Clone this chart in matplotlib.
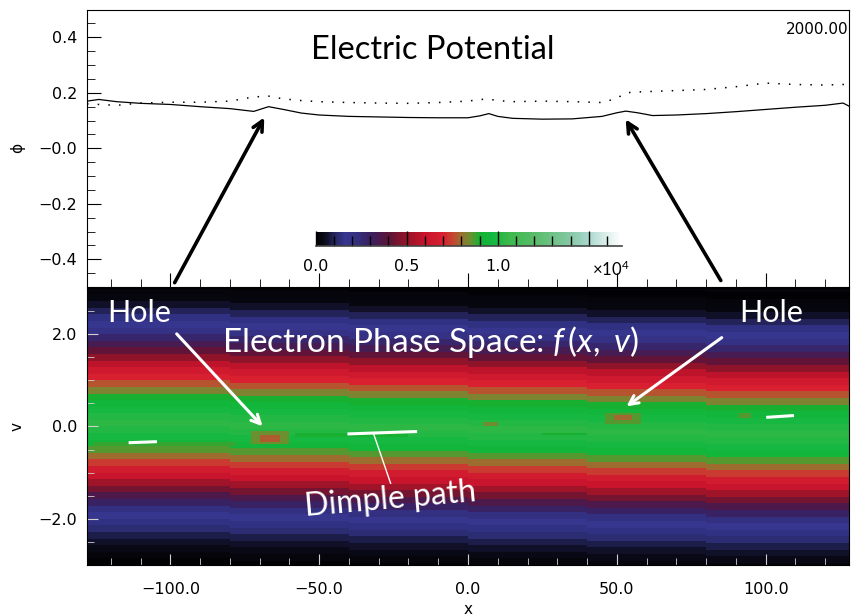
import numpy as np
import matplotlib
matplotlib.use("Agg")
import matplotlib.pyplot as plt
from matplotlib.colors import LinearSegmentedColormap
from matplotlib.ticker import MultipleLocator, FixedLocator, FixedFormatter
from matplotlib.lines import Line2D

# --- potential traces (top panel) ---
x_phi = [-128, -124, -118, -110, -100, -90, -80, -72, -67, -62, -56, -50, -40, -30,
         -20, -10, 0, 4, 7, 10, 15, 25, 35, 45, 50, 53, 57, 62, 70, 80, 90, 100,
         110, 120, 126, 128]
phi_now = [0.170, 0.176, 0.168, 0.162, 0.158, 0.150, 0.143, 0.133, 0.150, 0.140,
           0.127, 0.120, 0.115, 0.113, 0.111, 0.110, 0.110, 0.117, 0.125, 0.115,
           0.108, 0.105, 0.106, 0.115, 0.128, 0.134, 0.128, 0.118, 0.120, 0.125,
           0.132, 0.140, 0.148, 0.155, 0.163, 0.152]
phi_ref = [0.160, 0.158, 0.155, 0.163, 0.166, 0.166, 0.170, 0.185, 0.188, 0.178,
           0.172, 0.168, 0.165, 0.163, 0.162, 0.165, 0.170, 0.176, 0.177, 0.172,
           0.168, 0.170, 0.168, 0.165, 0.180, 0.200, 0.203, 0.205, 0.208, 0.212,
           0.222, 0.235, 0.230, 0.228, 0.230, 0.228]

# --- f(x, v) velocity profile, rows from v=+3 down to v=-3, in units of 1e4 ---
f_profile = [0.02, 0.03, 0.06, 0.10, 0.15, 0.17, 0.20, 0.27, 0.34, 0.41, 0.49,
             0.58, 0.64, 0.70, 0.77, 0.83, 0.90, 0.95, 0.98, 1.01, 1.03, 1.01,
             0.98, 0.95, 0.86, 0.80, 0.74, 0.66, 0.60, 0.52, 0.44, 0.36, 0.29,
             0.22, 0.17, 0.15, 0.13, 0.09, 0.06, 0.04, 0.02, 0.01]
SUB = 3  # each profile row drawn as 3 sub-rows so the band drift is gentle
# bands drift slightly downward toward +x (in sub-rows)
shift_edges = [-128, -80, -40, 0, 40, 80, 128]
shift_rows = [0, 1, 2, 3, 4, 5]
# holes / dimple trail: x0, x1, v0, v1, value
holes = [(-73, -60, -0.40, -0.10, 0.85),
         (-70, -63, -0.33, -0.17, 0.78),
         (46, 58, 0.07, 0.30, 0.86),
         (49, 55, 0.12, 0.24, 0.79),
         (5, 10, -0.02, 0.10, 0.84),
         (91, 95, 0.20, 0.30, 0.86),
         (-126, -78, -0.42, -0.32, 0.88),
         (-58, -20, -0.22, -0.14, 0.90),
         (25, 40, -0.20, -0.12, 0.90)]

# colormap nodes (value in 1e4, colour)
cmap_vals = [0.00, 0.05, 0.10, 0.16, 0.22, 0.30, 0.40, 0.50, 0.60, 0.70, 0.76,
             0.80, 0.85, 0.90, 0.97, 1.05, 1.20, 1.40, 1.50, 1.60, 1.68]
cmap_cols = ["#000000", "#0c0c1c", "#24245c", "#363690", "#343080", "#3a2060",
             "#5c1438", "#961428", "#c8142c", "#d82030", "#c04a30", "#9a7030",
             "#6a9030", "#18b030", "#10b840", "#38b848", "#58bc68", "#84c8a4",
             "#a8d8cc", "#dcefeb", "#ffffff"]
VMAX = 1.68

plt.rcParams["font.family"] = "DejaVu Sans"
plt.rcParams["mathtext.fontset"] = "custom"
plt.rcParams["mathtext.rm"] = "Lato"
plt.rcParams["mathtext.it"] = "Lato:italic"

cmap = LinearSegmentedColormap.from_list(
    "fv", list(zip([v / VMAX for v in cmap_vals], cmap_cols)))

# build the phase-space image
x_edges = np.arange(-128, 129, 1.0)
xc = x_edges[:-1] + 0.5
prof = np.repeat(np.array(f_profile), SUB)
v_edges = np.linspace(3, -3, len(prof) + 1)
vc = 0.5 * (v_edges[:-1] + v_edges[1:])
img = np.tile(prof[:, None], (1, len(xc)))
for i, s in enumerate(shift_rows):
    cols = (xc >= shift_edges[i]) & (xc < shift_edges[i + 1])
    img[:, cols] = np.roll(img[:, cols], s, axis=0)
for x0, x1, v0, v1, val in holes:
    rr = (vc >= v0) & (vc <= v1)
    cc = (xc >= x0) & (xc <= x1)
    img[np.ix_(rr, cc)] = np.minimum(img[np.ix_(rr, cc)], val)

fig = plt.figure(figsize=(8.52, 6.16), dpi=100)
ax1 = fig.add_axes([0.1021, 0.534, 0.8944, 0.4505])
ax2 = fig.add_axes([0.1021, 0.0828, 0.8944, 0.4497])

# --- top panel ---
ax1.plot(x_phi, phi_now, color="black", lw=0.9)
ax1.plot(x_phi, phi_ref, color="black", lw=1.1, linestyle=(0, (1, 6)))
ax1.set_xlim(-128, 128)
ax1.set_ylim(-0.5, 0.5)
ax1.yaxis.set_major_locator(FixedLocator([-0.4, -0.2, 0.0, 0.2, 0.4]))
ax1.yaxis.set_major_formatter(FixedFormatter(["\u22120.4", "\u22120.2", "\u22120.0", "0.2", "0.4"]))
ax1.yaxis.set_minor_locator(MultipleLocator(0.05))
ax1.xaxis.set_major_locator(MultipleLocator(50))
ax1.xaxis.set_minor_locator(MultipleLocator(10))
ax1.tick_params(axis="both", which="both", direction="in", top=False, right=False,
                labelsize=11.5, pad=7)
ax1.tick_params(axis="both", which="major", length=10)
ax1.tick_params(axis="both", which="minor", length=6)
ax1.tick_params(axis="x", labelbottom=False)
ax1.set_ylabel("\u03d5", fontsize=11, labelpad=10)
ax1.text(-12, 0.355, "Electric Potential", family="Lato", fontsize=23.5,
         ha="center", va="center")
ax1.text(0.999, 0.955, "2000.00", transform=ax1.transAxes, ha="right", va="top",
         fontsize=11)

arrow_k = dict(arrowstyle="->", color="black", lw=2.6, mutation_scale=18)
ax1.annotate("", xy=(-68, 0.12), xytext=(-99, -0.493), arrowprops=arrow_k,
             annotation_clip=False)
ax1.annotate("", xy=(52.5, 0.113), xytext=(85.4, -0.485), arrowprops=arrow_k,
             annotation_clip=False)

# --- bottom panel ---
mesh = ax2.pcolormesh(x_edges, v_edges, img, cmap=cmap, vmin=0, vmax=VMAX,
                      shading="flat")
ax2.set_xlim(-128, 128)
ax2.set_ylim(-3, 3)
ax2.xaxis.set_major_locator(FixedLocator([-100, -50, 0, 50, 100]))
ax2.xaxis.set_major_formatter(FixedFormatter(["\u2212100.0", "\u221250.0", "0.0", "50.0", "100.0"]))
ax2.xaxis.set_minor_locator(MultipleLocator(10))
ax2.yaxis.set_major_locator(FixedLocator([-2, 0, 2]))
ax2.yaxis.set_major_formatter(FixedFormatter(["\u22122.0", "0.0", "2.0"]))
ax2.yaxis.set_minor_locator(MultipleLocator(0.5))
ax2.tick_params(axis="both", which="both", direction="in", top=False, right=False,
                labelsize=11.5, color="#d0d0d0", labelcolor="black")
ax2.tick_params(axis="x", which="both", pad=12)
ax2.tick_params(axis="y", which="both", pad=7)
ax2.tick_params(axis="both", which="major", length=8)
ax2.tick_params(axis="both", which="minor", length=5)
ax2.set_xlabel("x", fontsize=11, labelpad=4)
ax2.set_ylabel("v", fontsize=11, labelpad=10)

txt = dict(family="Lato", color="white", ha="center", va="center")
ax2.text(-110.6, 2.46, "Hole", fontsize=22, **txt)
ax2.text(101.9, 2.46, "Hole", fontsize=22, **txt)
ax2.text(-12.5, 1.84, r"Electron Phase Space: $f\,(x,\ v)$", fontsize=24, **txt)
ax2.text(-26, -1.58, "Dimple path", fontsize=23, rotation=5, **txt)

arrow_w = dict(arrowstyle="->", color="white", lw=2.2, mutation_scale=16)
ax2.annotate("", xy=(-68.4, -0.04), xytext=(-98.5, 2.05), arrowprops=arrow_w)
ax2.annotate("", xy=(52.5, 0.4), xytext=(86, 1.96), arrowprops=arrow_w)

# dimple path markers
ax2.plot([-113.5, -105], [-0.35, -0.33], color="white", lw=2.2)
ax2.plot([-40, -17.6], [-0.16, -0.11], color="white", lw=2.2)
ax2.plot([100.7, 109], [0.2, 0.235], color="white", lw=2.2)
ax2.plot([-31.7, -26], [-0.16, -1.23], color="white", lw=1.0)

# --- colour bar inset ---
cax = fig.add_axes([0.3705, 0.6006, 0.359, 0.0232])
cb = fig.colorbar(mesh, cax=cax, orientation="horizontal")
cb.outline.set_visible(False)
cb.set_ticks([0, 0.5, 1.0, 1.5])
cb.set_ticklabels(["0.0", "0.5", "1.0", ""])
cax.xaxis.set_minor_locator(MultipleLocator(0.1))
cax.tick_params(axis="x", which="both", direction="in", color="black",
                labelsize=11.5, pad=9)
cax.tick_params(axis="x", which="major", length=11, width=1)
cax.tick_params(axis="x", which="minor", length=7, width=1)
cax.add_line(Line2D([0, 1], [0, 0], transform=cax.transAxes, color="#444444",
                    lw=1.2, clip_on=False))
cax.text(0.965, -1.05, r"$\times10^4$", transform=cax.transAxes, ha="center",
         va="top", fontsize=12)

fig.savefig("out.png", dpi=100)
